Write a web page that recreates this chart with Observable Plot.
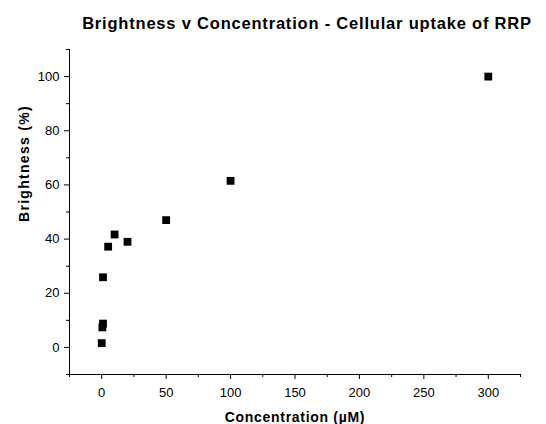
<!DOCTYPE html>
<html><head><meta charset="utf-8">
<script src="https://cdn.jsdelivr.net/npm/d3@7"></script>
<script src="https://cdn.jsdelivr.net/npm/@observablehq/plot@0.6"></script>
<style>
body{margin:0;background:#fff;font-family:"Liberation Sans",Arial,sans-serif;}
#title{height:40px;width:546px;box-sizing:border-box;padding-left:68px;padding-top:16px;text-align:center;font-weight:bold;font-size:16.5px;line-height:15px;letter-spacing:0.8px;color:#000;white-space:nowrap;}
#chart svg{display:block;}
</style></head><body>
<div id="title"></div>
<div id="chart"></div>
<script>
const titleText = "Brightness v Concentration - Cellular uptake of RRP";
const xLabel = "Concentration (µM)";
const yLabel = "Brightness (%)";
const concentration = [0, 0.5, 1, 1, 5, 10, 20, 50, 100, 300];
const brightness = [1.6, 7.4, 8.8, 25.9, 37.2, 41.7, 39.0, 47.0, 61.5, 100.0];
const xTicks = [0, 50, 100, 150, 200, 250, 300];
const xMinorTicks = [-25, 25, 75, 125, 175, 225, 275, 325];
const yTicks = [0, 20, 40, 60, 80, 100];
const yMinorTicks = [-10, 10, 30, 50, 70, 90, 110];
const xDomain = [-25, 325];
const yDomain = [-10, 110];

document.getElementById("title").textContent = titleText;
const data = concentration.map((c, i) => ({c, b: brightness[i]}));

const chart = Plot.plot({
  width: 546, height: 384,
  marginTop: 9, marginBottom: 50, marginLeft: 69, marginRight: 26,
  style: {fontFamily: '"Liberation Sans", Arial, sans-serif', fontSize: "13px", color: "#000", background: "#fff"},
  x: {domain: xDomain},
  y: {domain: yDomain},
  marks: [
    Plot.axisX({ticks: xTicks, tickSize: 5, tickPadding: 8, label: null, anchor: "bottom"}),
    Plot.axisX({ticks: xMinorTicks, tickSize: 3, text: null, label: null, anchor: "bottom"}),
    Plot.axisY({ticks: yTicks, tickSize: 5, tickPadding: 5, label: null, anchor: "left"}),
    Plot.axisY({ticks: yMinorTicks, tickSize: 3, text: null, label: null, anchor: "left"}),
    Plot.ruleX([xDomain[0]], {stroke: "#000"}),
    Plot.ruleY([yDomain[0]], {stroke: "#000"}),
    Plot.dot(data, {x: "c", y: "b", symbol: "square", r: 4.4, fill: "#000"}),
    Plot.text([xLabel], {frameAnchor: "bottom", dy: 42.7, lineAnchor: "middle", fontWeight: "bold", fontSize: 14, fill: "#000"}),
    Plot.text([yLabel], {frameAnchor: "left", dx: -45.3, dy: 10, rotate: -90, lineAnchor: "middle", fontWeight: "bold", fontSize: 14, fill: "#000"})
  ]
});
d3.select(chart).selectAll("text").filter(function(){return this.textContent === xLabel;}).style("letter-spacing", "0.7px");
d3.select(chart).selectAll("text").filter(function(){return this.textContent === yLabel;}).style("letter-spacing", "1.3px");
document.getElementById("chart").appendChild(chart);
</script>
</body></html>
